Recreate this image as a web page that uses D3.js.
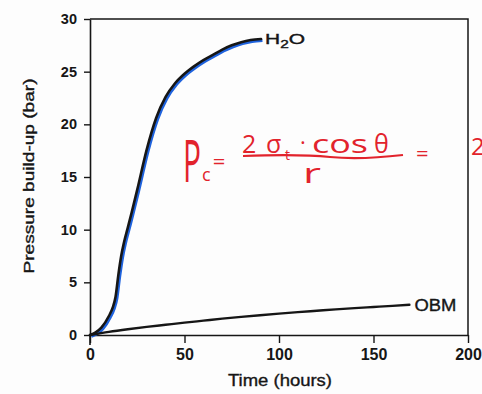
<!DOCTYPE html>
<html>
<head>
<meta charset="utf-8">
<script src="https://cdn.jsdelivr.net/npm/d3@7"></script>
<style>
  html, body { margin: 0; padding: 0; background: #fdfdfd; }
  svg { display: block; }
</style>
</head>
<body>
<svg id="chart" width="482" height="394"></svg>
<script>
// ---- data ----
const h2oTime     = [0, 3, 6, 10, 12, 13.5, 15, 16.5, 18, 20, 22, 25, 30, 35, 40, 45, 50, 55, 60, 65, 70, 75, 80, 85, 90.5];
const h2oPressure = [0, 0.25, 0.7, 1.8, 2.6, 3.6, 5.7, 7.5, 8.8, 10.2, 11.6, 13.8, 17.6, 20.6, 22.6, 23.9, 24.8, 25.5, 26.1, 26.6, 27.1, 27.5, 27.8, 28.0, 28.1];
const obmTime     = [0, 10, 20, 30, 40, 50, 60, 70, 80, 90, 100, 110, 120, 130, 140, 150, 160, 169];
const obmPressure = [0, 0.3, 0.55, 0.77, 0.97, 1.17, 1.36, 1.55, 1.72, 1.88, 2.03, 2.17, 2.3, 2.43, 2.55, 2.66, 2.77, 2.87];
const xTicks = [0, 50, 100, 150, 200];
const yTicks = [0, 5, 10, 15, 20, 25, 30];
const seriesLabels = ["H2O", "OBM"];

const svg = d3.select("#chart");
const x = d3.scaleLinear().domain([0, 200]).range([90, 468]);
const y = d3.scaleLinear().domain([0, 30]).range([335, 19]);
const ink = "#161616";
const font = "'Liberation Sans', Arial, Helvetica, sans-serif";

// frame (top + right)
svg.append("path")
  .attr("d", `M${x(0)},${y(30)}H${x(200)}V${y(0)}`)
  .attr("fill", "none").attr("stroke", ink).attr("stroke-width", 1.5);

// axes
const xAxis = svg.append("g").attr("transform", `translate(0,${y(0)})`)
  .call(d3.axisBottom(x).tickValues(xTicks).tickSize(8).tickSizeOuter(0).tickFormat(d3.format("d")));
const yAxis = svg.append("g").attr("transform", `translate(${x(0)},0)`)
  .call(d3.axisLeft(y).tickValues(yTicks).tickSize(6).tickSizeOuter(0).tickFormat(d3.format("d")));
[xAxis, yAxis].forEach(g => {
  g.select(".domain").attr("stroke", ink).attr("stroke-width", 1.6);
  g.selectAll(".tick line").attr("stroke", ink).attr("stroke-width", 1.4);
  g.selectAll("text").attr("fill", ink).attr("font-family", font).attr("font-weight", "bold");
});
// y axis extends a bit below the x axis
svg.append("line").attr("x1", x(0)).attr("x2", x(0)).attr("y1", y(0)).attr("y2", y(0) + 10)
  .attr("stroke", ink).attr("stroke-width", 1.6);
xAxis.selectAll("text").attr("font-size", 16).attr("dy", "0.71em").attr("y", 14);
yAxis.selectAll("text").attr("font-size", 14.5).attr("x", -13);

// axis titles
svg.append("text").attr("x", 280).attr("y", 386).attr("text-anchor", "middle")
  .attr("font-family", font).attr("font-size", 16).attr("fill", ink)
  .attr("stroke", ink).attr("stroke-width", 0.35)
  .attr("textLength", 104).attr("lengthAdjust", "spacingAndGlyphs")
  .text("Time (hours)");
svg.append("text").attr("transform", "translate(34,176) rotate(-90)").attr("text-anchor", "middle")
  .attr("font-family", font).attr("font-size", 14).attr("fill", ink)
  .attr("stroke", ink).attr("stroke-width", 0.35)
  .attr("textLength", 195).attr("lengthAdjust", "spacingAndGlyphs")
  .text("Pressure build-up (bar)");

// curves
const line = d3.line().x(d => x(d[0])).y(d => y(d[1])).curve(d3.curveMonotoneX);
const h2o = h2oTime.map((t, i) => [t, h2oPressure[i]]);
const obm = obmTime.map((t, i) => [t, obmPressure[i]]);

svg.append("path").datum(h2o).attr("d", line)
  .attr("transform", "translate(1.4,1.4)")
  .attr("fill", "none").attr("stroke", "#1f63de").attr("stroke-width", 3);
svg.append("path").datum(h2o).attr("d", line)
  .attr("fill", "none").attr("stroke", ink).attr("stroke-width", 2.6).attr("stroke-linecap", "round");
svg.append("path").datum(obm).attr("d", line)
  .attr("fill", "none").attr("stroke", ink).attr("stroke-width", 2.4).attr("stroke-linecap", "round");

// series labels
const hEnd = h2o[h2o.length - 1];
const hl = svg.append("text").attr("x", x(hEnd[0]) + 4).attr("y", y(hEnd[1]) + 5)
  .attr("font-family", font).attr("font-size", 15).attr("fill", ink)
  .attr("stroke", ink).attr("stroke-width", 0.4)
  .attr("textLength", 40).attr("lengthAdjust", "spacingAndGlyphs");
hl.append("tspan").text("H");
hl.append("tspan").attr("font-size", 11).attr("dy", 4).text("2");
hl.append("tspan").attr("dy", -4).text("O");
const oEnd = obm[obm.length - 1];
svg.append("text").attr("x", x(oEnd[0]) + 5).attr("y", y(oEnd[1]) + 6)
  .attr("font-family", font).attr("font-size", 17).attr("fill", ink)
  .attr("stroke", ink).attr("stroke-width", 0.35)
  .attr("textLength", 42).attr("lengthAdjust", "spacingAndGlyphs")
  .text(seriesLabels[1]);

// handwritten red annotation
const red = "#e2232c";
const note = svg.append("g").attr("fill", red)
  .attr("font-family", "'Open Sans', 'DejaVu Sans', sans-serif").attr("font-weight", 500);
const pc = note.append("text").attr("x", 183).attr("y", 182);
pc.append("tspan").attr("font-size", 58).attr("textLength", 18).attr("lengthAdjust", "spacingAndGlyphs").text("P");
pc.append("tspan").attr("font-size", 18).attr("dx", 1).attr("dy", -1).text("c");
pc.append("tspan").attr("font-size", 22).attr("dx", 2).attr("dy", -12).text("=");
note.append("text").attr("x", 242).attr("y", 153).attr("font-size", 25).text("2");
note.append("text").attr("x", 266).attr("y", 153).attr("font-size", 25).text("σ");
note.append("text").attr("x", 285).attr("y", 160).attr("font-size", 14).text("t");
note.append("text").attr("x", 300).attr("y", 150).attr("font-size", 22).text("·");
note.append("text").attr("x", 312).attr("y", 153).attr("font-size", 25)
  .attr("textLength", 56).attr("lengthAdjust", "spacingAndGlyphs").text("cos");
note.append("text").attr("x", 374).attr("y", 153).attr("font-size", 25).text("θ");
note.append("path").attr("d", "M243,156 Q300,154 330,157 T403,155")
  .attr("fill", "none").attr("stroke", red).attr("stroke-width", 2.2);
note.append("text").attr("x", 303).attr("y", 183).attr("font-size", 28)
  .attr("textLength", 18).attr("lengthAdjust", "spacingAndGlyphs").text("r");
note.append("text").attr("x", 416).attr("y", 161).attr("font-size", 22).text("=");
note.append("text").attr("x", 471).attr("y", 155).attr("font-size", 24).text("2");
</script>
</body>
</html>
